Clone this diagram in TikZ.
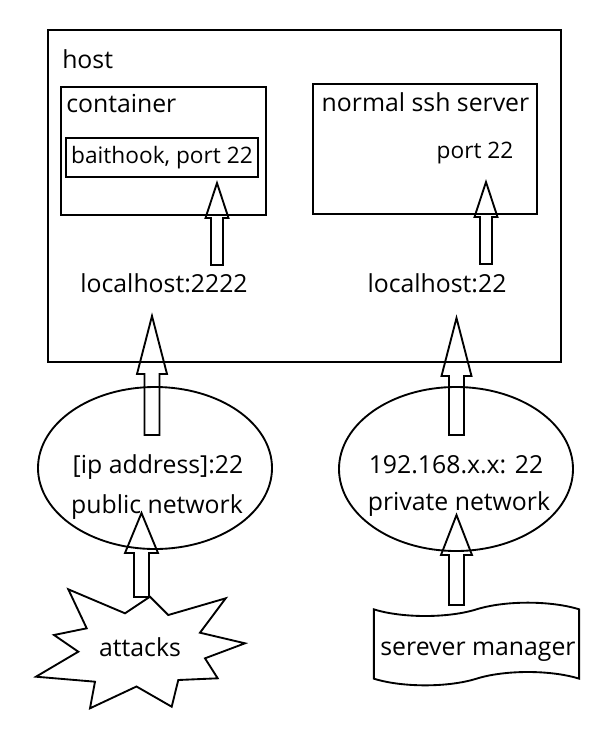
\documentclass[tikz,border=0pt]{standalone}
\usepackage{fontspec}
\setmainfont{Open Sans}
\usetikzlibrary{calc,positioning,shapes.geometric,shapes.symbols}
\tikzset{
  frame/.style={draw=black,line width=1.4pt},
  portbox/.style={draw=black,line width=1.4pt,minimum width=144pt,minimum height=29pt,inner sep=0pt,font=\smallfont},
  net/.style={draw=black,line width=1.4pt,ellipse,inner sep=0pt},
  label/.style={inner sep=0pt,font=\bigfont},
  smalllabel/.style={inner sep=0pt,font=\smallfont},
  blockline/.style={draw=black,line width=1.4pt,line join=miter},
  flag/.style={tape,draw=black,line width=1.4pt,minimum width=154pt,minimum height=62pt,tape bend height=10pt,inner sep=0pt,font=\bigfont}
}
\newcommand\bigfont{\fontsize{18.6pt}{22pt}\selectfont}
\newcommand\smallfont{\fontsize{17pt}{20pt}\selectfont}
% hollow up-pointing block arrow: tail, tip, shaft half width, head half width, head length (px)
\newcommand\hollowup[5]{%
  \draw[blockline] let \p1=(#1), \p2=(#2) in
    (\x1-#3*0.75pt,\y1) -- (\x1-#3*0.75pt,\y2-#5*0.75pt) -- (\x1-#4*0.75pt,\y2-#5*0.75pt)
    -- (\x1,\y2) -- (\x1+#4*0.75pt,\y2-#5*0.75pt) -- (\x1+#3*0.75pt,\y2-#5*0.75pt)
    -- (\x1+#3*0.75pt,\y1) -- cycle;}
\begin{document}
\begin{tikzpicture}[x=0.75pt,y=-0.75pt]
  \useasboundingbox (0,0) rectangle (602,732);
  % boxes
  \draw[frame] (48,30) rectangle (561,362);
  \node[label,anchor=base west] (host) at (62,68) {host};
  \draw[frame] (61,87) rectangle (266,215);
  \node[label,anchor=base west] (container) at (66,112) {container};
  \node[portbox] (bait) at (162,157.5) {baithook, port 22};
  \draw[frame] (313,84) rectangle (537,214);
  \node[label,anchor=base] (ssh) at (425.5,111) {normal ssh server};
  \node[smalllabel,anchor=base] (port) at (475,158) {port 22};
  \node[label,anchor=base] (lh2222) at (164,292) {localhost:2222};
  \node[label,anchor=base] (lh22) at (437,292) {localhost:22};
  % networks
  \node[net,minimum width=175.5pt,minimum height=121.5pt] (public) at (155,468) {};
  \node[net,minimum width=175.5pt,minimum height=123pt] (private) at (456,469) {};
  \node[label,anchor=base] (ip) at (158,473) {[ip address]:22};
  \node[label,anchor=base] (pubnet) at (157,513) {public network};
  \node[label,anchor=base] (lan) at (456,473) {192.168.x.x: 22};
  \node[label,anchor=base] (privnet) at (459,510) {private network};
  % attacks
  \draw[frame,line join=miter] (68.3,589.3) -- (125,613.3) -- (150,596.7) -- (168.3,615)
    -- (225.7,598.3) -- (200,632.7) -- (245,643.3) -- (205,658.3) -- (217.7,678.3)
    -- (178.3,680) -- (171.7,706.7) -- (136.5,686.5) -- (90,708.3) -- (95,681.7)
    -- (36,676.7) -- (78.3,651.7) -- (54,635) -- (86.7,628.3) -- cycle;
  \node[label] (attacks) at (140,647) {attacks};
  \node[flag] (manager) at (476.5,644) {};
  \node[label,anchor=base] (mgrtext) at (478,655) {serever manager};
  % arrows
  \coordinate (aTail) at (217,265);   \coordinate (aTip) at (217,183);
  \coordinate (bTail) at (486,264);   \coordinate (bTip) at (486,182);
  \coordinate (cTail) at (152,435);   \coordinate (cTip) at (152,316);
  \coordinate (dTail) at (456.5,435); \coordinate (dTip) at (456.5,318);
  \coordinate (eTail) at (141.5,597); \coordinate (eTip) at (141.5,513);
  \coordinate (fTail) at (456.5,605); \coordinate (fTip) at (456.5,515);
  \hollowup{aTail}{aTip}{6}{11.5}{35}
  \hollowup{bTail}{bTip}{6}{11.5}{35}
  \hollowup{cTail}{cTip}{7.5}{15}{58}
  \hollowup{dTail}{dTip}{7.5}{15}{58}
  \hollowup{eTail}{eTip}{7.5}{16.5}{40}
  \hollowup{fTail}{fTip}{7.5}{15.5}{40}
\end{tikzpicture}
\end{document}
